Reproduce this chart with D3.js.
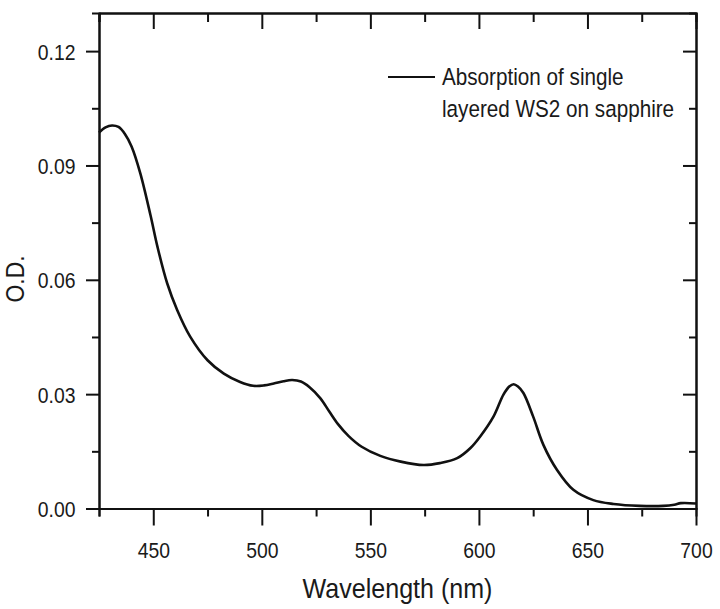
<!DOCTYPE html>
<html>
<head>
<meta charset="utf-8">
<script src="https://cdn.jsdelivr.net/npm/d3@7"></script>
<style>
  html, body { margin: 0; padding: 0; background: #fff; }
  svg { display: block; }
  text { font-family: "Liberation Sans", Arial, sans-serif; fill: #1a1a1a; }
</style>
</head>
<body>
<svg id="chart" width="720" height="609"></svg>
<script>
// Absorption spectrum of single-layer WS2 on sapphire
const wavelength = [425, 428, 431, 434, 437, 440, 444, 448.7, 452, 456.4, 461, 467, 475, 482.5, 490, 496, 501, 505.5, 510, 514, 518, 522, 527, 531, 535, 540, 546, 554.6, 564, 574.5, 582, 590, 596, 600.6, 606.7, 611.3, 614, 616, 618, 620.5, 625, 629.7, 636, 643.5, 652.7, 662, 674, 685, 690, 693, 700];
const od = [0.0986, 0.1000, 0.1005, 0.1001, 0.0982, 0.0950, 0.0880, 0.0770, 0.0685, 0.0591, 0.0521, 0.0451, 0.0389, 0.0354, 0.0332, 0.0322, 0.0323, 0.0328, 0.0334, 0.0337, 0.0333, 0.0318, 0.0289, 0.0255, 0.0222, 0.0190, 0.0162, 0.0138, 0.0123, 0.0114, 0.0119, 0.0132, 0.0158, 0.0189, 0.0241, 0.0299, 0.0320, 0.0326, 0.0320, 0.0303, 0.0241, 0.0167, 0.0101, 0.0049, 0.0022, 0.0012, 0.0007, 0.0007, 0.0010, 0.0014, 0.0013];

const xMajor = [450, 500, 550, 600, 650, 700];
const xMinor = [425, 475, 525, 575, 625, 675];
const yMajor = [0, 0.03, 0.06, 0.09, 0.12];
const yMinor = [0.015, 0.045, 0.075, 0.105];
const seriesName = ["Absorption of single", "layered WS2 on sapphire"];
const xTitle = "Wavelength (nm)";
const yTitle = "O.D.";

const plotLeft = 99, plotRight = 696, plotTop = 13, plotBottom = 508.5;
const narrow = 0.88;

const svg = d3.select("#chart");
const x = d3.scaleLinear().domain([425, 700]).range([plotLeft, plotRight]);
const y = d3.scaleLinear().domain([0, 0.13]).range([plotBottom, plotTop]);

function styleAxis(g) {
  g.selectAll(".domain").attr("stroke", "#111").attr("stroke-width", 2);
  g.selectAll(".tick line").attr("stroke", "#111").attr("stroke-width", 2);
}

// minor ticks first, then major ticks with labels
const gBottomMinor = svg.append("g").attr("transform", `translate(0,${plotBottom})`)
  .call(d3.axisBottom(x).tickValues(xMinor).tickSize(8).tickFormat(""));
const gTopMinor = svg.append("g").attr("transform", `translate(0,${plotTop})`)
  .call(d3.axisTop(x).tickValues(xMinor).tickSize(-9).tickFormat(""));
const gLeftMinor = svg.append("g").attr("transform", `translate(${plotLeft},0)`)
  .call(d3.axisLeft(y).tickValues(yMinor).tickSize(7).tickFormat(""));
const gRightMinor = svg.append("g").attr("transform", `translate(${plotRight},0)`)
  .call(d3.axisRight(y).tickValues(yMinor).tickSize(-7).tickFormat(""));
[gBottomMinor, gTopMinor, gLeftMinor, gRightMinor].forEach(styleAxis);

const gBottom = svg.append("g").attr("transform", `translate(0,${plotBottom})`)
  .call(d3.axisBottom(x).tickValues(xMajor).tickSizeInner(17).tickSizeOuter(0).tickFormat(d3.format("d")));
const gTop = svg.append("g").attr("transform", `translate(0,${plotTop})`)
  .call(d3.axisTop(x).tickValues(xMajor).tickSizeInner(-16).tickSizeOuter(0).tickFormat(""));
const gLeft = svg.append("g").attr("transform", `translate(${plotLeft},0)`)
  .call(d3.axisLeft(y).tickValues(yMajor).tickSizeInner(13).tickSizeOuter(0).tickFormat(d3.format(".2f")));
const gRight = svg.append("g").attr("transform", `translate(${plotRight},0)`)
  .call(d3.axisRight(y).tickValues(yMajor).tickSizeInner(-13).tickSizeOuter(0).tickFormat(""));
[gBottom, gTop, gLeft, gRight].forEach(styleAxis);

gBottom.selectAll(".tick text")
  .attr("y", 49.5).attr("dy", null)
  .attr("font-size", 22).attr("fill", "#1a1a1a")
  .attr("transform", `scale(${narrow},1)`);

gLeft.selectAll(".tick text")
  .attr("x", -23.5 / narrow).attr("dy", "0.36em")
  .attr("font-size", 22).attr("fill", "#1a1a1a")
  .attr("transform", `scale(${narrow},1)`);

// axis titles
svg.append("text")
  .attr("text-anchor", "middle")
  .attr("font-size", 28.5)
  .attr("transform", `translate(${(plotLeft + plotRight) / 2},598) scale(${narrow},1)`)
  .text(xTitle);

svg.append("text")
  .attr("text-anchor", "middle")
  .attr("font-size", 26)
  .attr("transform", `translate(24,279) rotate(-90) scale(${narrow},1)`)
  .text(yTitle);

// spectrum
const pts = wavelength.map((w, i) => [w, od[i]]);
const line = d3.line()
  .x(d => x(d[0]))
  .y(d => y(d[1]))
  .curve(d3.curveCatmullRom.alpha(0.5));

svg.append("path")
  .datum(pts)
  .attr("fill", "none")
  .attr("stroke", "#111")
  .attr("stroke-width", 2.6)
  .attr("stroke-linejoin", "round")
  .attr("d", line);

// legend
const legend = svg.append("g");
legend.append("line")
  .attr("x1", 388).attr("x2", 435)
  .attr("y1", 77).attr("y2", 77)
  .attr("stroke", "#111").attr("stroke-width", 2.2);
seriesName.forEach((t, i) => {
  legend.append("text")
    .attr("font-size", 23.5)
    .attr("transform", `translate(442,${85 + i * 32}) scale(${narrow},1)`)
    .text(t);
});
</script>
</body>
</html>
